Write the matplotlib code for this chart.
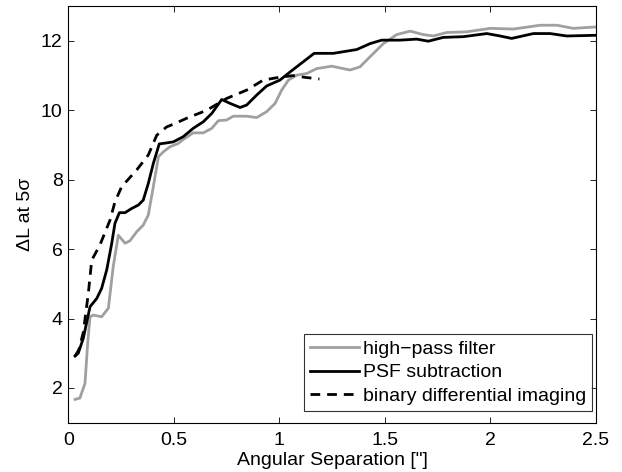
import numpy as np
import matplotlib.pyplot as plt

plt.rcParams['font.family'] = ['Liberation Sans', 'DejaVu Sans']

# high-pass filter (grey)
hp_x = [0.032, 0.055, 0.079, 0.092, 0.103, 0.119, 0.158, 0.19, 0.213, 0.237, 0.269, 0.292,
        0.324, 0.355, 0.379, 0.403, 0.427, 0.45, 0.482, 0.52, 0.545, 0.592, 0.64, 0.68,
        0.711, 0.75, 0.782, 0.845, 0.893, 0.94, 0.98, 1.011, 1.043, 1.082, 1.13, 1.177,
        1.248, 1.335, 1.382, 1.438, 1.493, 1.556, 1.62, 1.682, 1.73, 1.793, 1.888, 1.999,
        2.109, 2.236, 2.315, 2.393, 2.5]
hp_y = [1.67, 1.71, 2.13, 3.3, 4.05, 4.1, 4.05, 4.3, 5.5, 6.4, 6.17, 6.24,
        6.5, 6.69, 6.98, 7.8, 8.66, 8.8, 8.95, 9.04, 9.16, 9.35, 9.35, 9.48,
        9.7, 9.72, 9.83, 9.83, 9.79, 9.96, 10.2, 10.58, 10.87, 11.01, 11.06, 11.2,
        11.27, 11.16, 11.25, 11.59, 11.92, 12.18, 12.28, 12.18, 12.14, 12.24, 12.26, 12.36,
        12.34, 12.45, 12.45, 12.36, 12.40]

# PSF subtraction (black solid)
psf_x = [0.032, 0.047, 0.071, 0.103, 0.135, 0.158, 0.182, 0.206, 0.221, 0.242, 0.269, 0.3,
         0.332, 0.355, 0.379, 0.403, 0.431, 0.466, 0.498, 0.545, 0.592, 0.64, 0.68, 0.727,
         0.766, 0.814, 0.845, 0.893, 0.94, 1.003, 1.05, 1.114, 1.165, 1.256, 1.367, 1.43,
         1.485, 1.572, 1.651, 1.706, 1.777, 1.872, 1.983, 2.046, 2.101, 2.204, 2.283, 2.362,
         2.5]
psf_y = [2.92, 3.0, 3.43, 4.34, 4.58, 4.87, 5.4, 6.17, 6.74, 7.05, 7.05, 7.17,
         7.27, 7.41, 7.89, 8.47, 9.03, 9.06, 9.09, 9.24, 9.48, 9.67, 9.91, 10.31,
         10.2, 10.08, 10.15, 10.44, 10.7, 10.87, 11.1, 11.4, 11.64, 11.64, 11.75, 11.92,
         12.02, 12.02, 12.05, 11.99, 12.1, 12.12, 12.21, 12.14, 12.07, 12.21, 12.21, 12.14,
         12.16]

# binary differential imaging (dashed)
bdi_x = [0.032, 0.05, 0.071, 0.095, 0.111, 0.15, 0.198, 0.221, 0.253, 0.324, 0.379, 0.419,
         0.466, 0.506, 0.561, 0.656, 0.75, 0.845, 0.924, 1.0, 1.066, 1.12, 1.19]
bdi_y = [2.92, 3.1, 3.6, 4.73, 5.68, 6.12, 6.84, 7.36, 7.8, 8.28, 8.71, 9.28,
         9.52, 9.62, 9.77, 10.0, 10.34, 10.58, 10.87, 10.95, 11.0, 10.95, 10.9]

FS = 14

fig = plt.figure(figsize=(6.22, 4.72), dpi=100)
ax = fig.add_axes([0.1098, 0.1045, 0.8482, 0.8825])

ax.plot(hp_x, hp_y, color='#a0a0a0', lw=2, label='high\u2212pass filter')
ax.plot(psf_x, psf_y, color='black', lw=2, label='PSF subtraction')
ax.plot(bdi_x, bdi_y, color='black', lw=2, ls=(0, (3.5, 2.5)), label='binary differential imaging')

ax.set_xlim(0, 2.5)
ax.set_ylim(1, 13)
ax.set_xticks([0, 0.5, 1, 1.5, 2, 2.5])
ax.set_xticklabels(['0', '0.5', '1', '1.5', '2', '2.5'])
ax.set_yticks([2, 4, 6, 8, 10, 12])
ax.tick_params(direction='in', top=True, right=True, labelsize=FS, length=4, width=0.6)
ax.tick_params(axis='x', pad=7)
ax.tick_params(axis='y', pad=4)
for s in ax.spines.values():
    s.set_linewidth(0.8)

ax.set_xlabel('Angular Separation ["]', fontsize=FS, labelpad=2)
ax.set_ylabel('\u0394L at 5\u03c3', fontsize=FS, labelpad=5)

leg = ax.legend(loc='lower right', bbox_to_anchor=(0.992, 0.029), fontsize=FS,
                frameon=True, fancybox=False, edgecolor='black', handlelength=2.5,
                borderpad=0.3, labelspacing=0.3, handletextpad=0.2, borderaxespad=0)
leg.get_frame().set_linewidth(0.8)

fig.savefig('out.png', dpi=100)
